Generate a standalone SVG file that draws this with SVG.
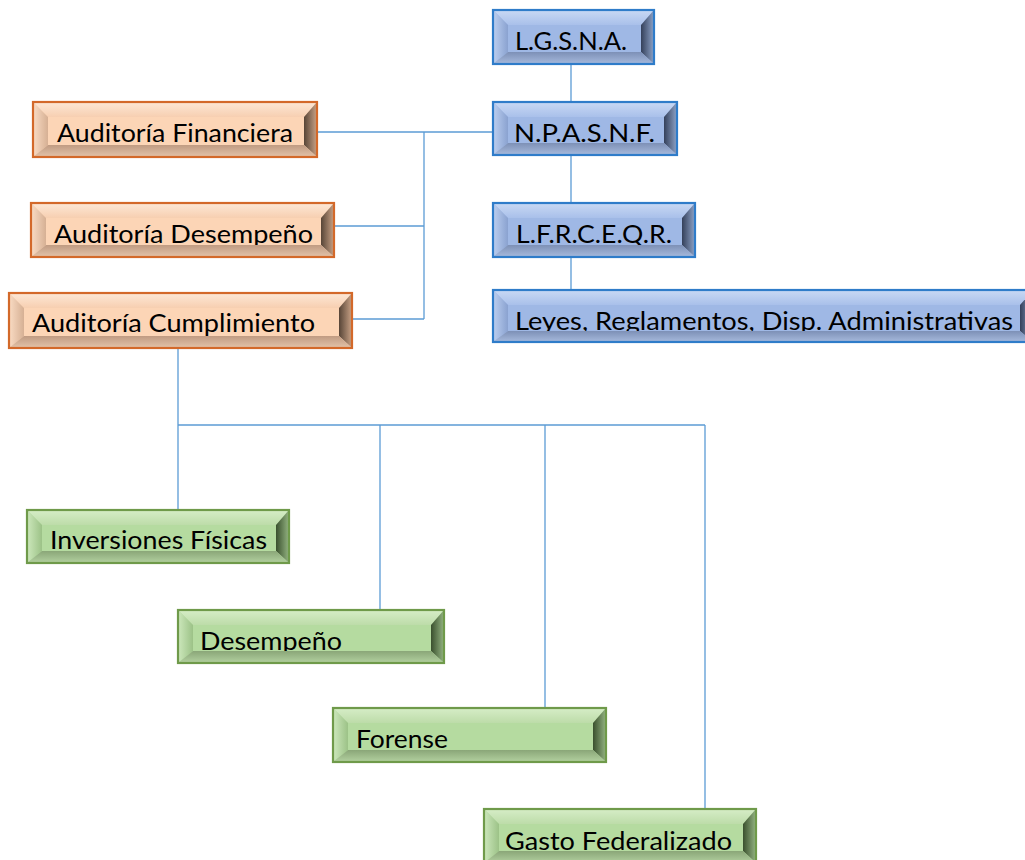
<svg xmlns="http://www.w3.org/2000/svg" width="1025" height="860" viewBox="0 0 1025 860">
  <defs>
    <!-- blue bevel shades -->
    <linearGradient id="b-top" x1="0" y1="0" x2="0" y2="1"><stop offset="0" stop-color="#c9d9f4"/><stop offset="1" stop-color="#a9c0ea"/></linearGradient>
    <linearGradient id="b-left" x1="0" y1="0" x2="1" y2="0"><stop offset="0" stop-color="#bccff0"/><stop offset="1" stop-color="#8aa2d0"/></linearGradient>
    <linearGradient id="b-right" x1="0" y1="0" x2="1" y2="0"><stop offset="0" stop-color="#34405a"/><stop offset="1" stop-color="#8ea3c8"/></linearGradient>
    <linearGradient id="b-bottom" x1="0" y1="0" x2="0" y2="1"><stop offset="0" stop-color="#7d90b6"/><stop offset="1" stop-color="#a7badd"/></linearGradient>
    <!-- orange bevel shades -->
    <linearGradient id="o-top" x1="0" y1="0" x2="0" y2="1"><stop offset="0" stop-color="#fde8d6"/><stop offset="1" stop-color="#f7cfb1"/></linearGradient>
    <linearGradient id="o-left" x1="0" y1="0" x2="1" y2="0"><stop offset="0" stop-color="#fadcc4"/><stop offset="1" stop-color="#d6b094"/></linearGradient>
    <linearGradient id="o-right" x1="0" y1="0" x2="1" y2="0"><stop offset="0" stop-color="#574537"/><stop offset="1" stop-color="#c9a286"/></linearGradient>
    <linearGradient id="o-bottom" x1="0" y1="0" x2="0" y2="1"><stop offset="0" stop-color="#c09b82"/><stop offset="1" stop-color="#e3c3a9"/></linearGradient>
    <!-- green bevel shades -->
    <linearGradient id="g-top" x1="0" y1="0" x2="0" y2="1"><stop offset="0" stop-color="#d6edc7"/><stop offset="1" stop-color="#bddca9"/></linearGradient>
    <linearGradient id="g-left" x1="0" y1="0" x2="1" y2="0"><stop offset="0" stop-color="#cde8bc"/><stop offset="1" stop-color="#9cc287"/></linearGradient>
    <linearGradient id="g-right" x1="0" y1="0" x2="1" y2="0"><stop offset="0" stop-color="#3a502e"/><stop offset="1" stop-color="#94b482"/></linearGradient>
    <linearGradient id="g-bottom" x1="0" y1="0" x2="0" y2="1"><stop offset="0" stop-color="#8aa678"/><stop offset="1" stop-color="#b3d1a0"/></linearGradient>
  </defs>
  <style>
    .lbl { font-family: Lato, "Liberation Sans", Arial, sans-serif; font-size: 25px; fill: #000; }
    .b .face { fill: #9fb8e5; } .b .edge { fill: none; stroke: #2f7cc9; stroke-width: 2.2; }
    .b .t { fill: url(#b-top); } .b .l { fill: url(#b-left); } .b .r { fill: url(#b-right); } .b .bt { fill: url(#b-bottom); }
    .o .face { fill: #fcd5b6; } .o .edge { fill: none; stroke: #d3692a; stroke-width: 2.2; }
    .o .t { fill: url(#o-top); } .o .l { fill: url(#o-left); } .o .r { fill: url(#o-right); } .o .bt { fill: url(#o-bottom); }
    .g .face { fill: #b5dba0; } .g .edge { fill: none; stroke: #6f9a4a; stroke-width: 2.2; }
    .g .t { fill: url(#g-top); } .g .l { fill: url(#g-left); } .g .r { fill: url(#g-right); } .g .bt { fill: url(#g-bottom); }
    .conn path { fill: none; stroke: #5b9bd5; stroke-width: 1.3; }
  </style>

  <rect width="1025" height="860" fill="#ffffff"/>

  <g class="conn" id="connectors">
    <path d="M571,64 V102"/>
    <path d="M571,155 V203"/>
    <path d="M571,257 V290"/>
    <path d="M317,132 H493"/>
    <path d="M424,132 V319"/>
    <path d="M334,226 H424"/>
    <path d="M352,319 H424"/>
    <path d="M178,348 V510"/>
    <path d="M178,425 H705"/>
    <path d="M380,425 V610"/>
    <path d="M545,425 V708"/>
    <path d="M705,425 V809"/>
  </g>

  <g id="lgsna" class="b">
    <rect class="face" x="493" y="10" width="161" height="54"/>
    <text class="lbl" x="515" y="50" textLength="112" lengthAdjust="spacingAndGlyphs">L.G.S.N.A.</text>
    <polygon class="t" points="493,10 654,10 641,25 508,25"/>
    <polygon class="l" points="493,10 508,25 508,52 493,64"/>
    <polygon class="r" points="654,10 654,64 641,52 641,25"/>
    <polygon class="bt" points="493,64 508,52 641,52 654,64"/>
    <rect class="edge" x="493" y="10" width="161" height="54"/>
  </g>

  <g id="npasnf" class="b">
    <rect class="face" x="493" y="102" width="184" height="53"/>
    <text class="lbl" x="514" y="142" textLength="141" lengthAdjust="spacingAndGlyphs">N.P.A.S.N.F.</text>
    <polygon class="t" points="493,102 677,102 664,117 508,117"/>
    <polygon class="l" points="493,102 508,117 508,143 493,155"/>
    <polygon class="r" points="677,102 677,155 664,143 664,117"/>
    <polygon class="bt" points="493,155 508,143 664,143 677,155"/>
    <rect class="edge" x="493" y="102" width="184" height="53"/>
  </g>

  <g id="lfrceqr" class="b">
    <rect class="face" x="493" y="203" width="202" height="54"/>
    <text class="lbl" x="516" y="243" textLength="156" lengthAdjust="spacingAndGlyphs">L.F.R.C.E.Q.R.</text>
    <polygon class="t" points="493,203 695,203 682,218 508,218"/>
    <polygon class="l" points="493,203 508,218 508,245 493,257"/>
    <polygon class="r" points="695,203 695,257 682,245 682,218"/>
    <polygon class="bt" points="493,257 508,245 682,245 695,257"/>
    <rect class="edge" x="493" y="203" width="202" height="54"/>
  </g>

  <g id="leyes" class="b">
    <rect class="face" x="493" y="290" width="540" height="52"/>
    <text class="lbl" x="515" y="330" textLength="498" lengthAdjust="spacingAndGlyphs">Leyes, Reglamentos, Disp. Administrativas</text>
    <polygon class="t" points="493,290 1033,290 1020,305 508,305"/>
    <polygon class="l" points="493,290 508,305 508,331 493,342"/>
    <polygon class="r" points="1033,290 1033,342 1020,331 1020,305"/>
    <polygon class="bt" points="493,342 508,331 1020,331 1033,342"/>
    <rect class="edge" x="493" y="290" width="540" height="52"/>
  </g>

  <g id="aud-financiera" class="o">
    <rect class="face" x="33" y="102" width="284" height="55"/>
    <text class="lbl" x="57" y="142" textLength="236" lengthAdjust="spacingAndGlyphs">Auditoría Financiera</text>
    <polygon class="t" points="33,102 317,102 304,117 48,117"/>
    <polygon class="l" points="33,102 48,117 48,145 33,157"/>
    <polygon class="r" points="317,102 317,157 304,145 304,117"/>
    <polygon class="bt" points="33,157 48,145 304,145 317,157"/>
    <rect class="edge" x="33" y="102" width="284" height="55"/>
  </g>

  <g id="aud-desempeno" class="o">
    <rect class="face" x="31" y="203" width="303" height="54"/>
    <text class="lbl" x="54" y="243" textLength="259" lengthAdjust="spacingAndGlyphs">Auditoría Desempeño</text>
    <polygon class="t" points="31,203 334,203 321,218 46,218"/>
    <polygon class="l" points="31,203 46,218 46,245 31,257"/>
    <polygon class="r" points="334,203 334,257 321,245 321,218"/>
    <polygon class="bt" points="31,257 46,245 321,245 334,257"/>
    <rect class="edge" x="31" y="203" width="303" height="54"/>
  </g>

  <g id="aud-cumplimiento" class="o">
    <rect class="face" x="9" y="293" width="343" height="55"/>
    <text class="lbl" x="32" y="332" textLength="283" lengthAdjust="spacingAndGlyphs">Auditoría Cumplimiento</text>
    <polygon class="t" points="9,293 352,293 339,308 24,308"/>
    <polygon class="l" points="9,293 24,308 24,336 9,348"/>
    <polygon class="r" points="352,293 352,348 339,336 339,308"/>
    <polygon class="bt" points="9,348 24,336 339,336 352,348"/>
    <rect class="edge" x="9" y="293" width="343" height="55"/>
  </g>

  <g id="inversiones" class="g">
    <rect class="face" x="27" y="510" width="262" height="53"/>
    <text class="lbl" x="50" y="549" textLength="217" lengthAdjust="spacingAndGlyphs">Inversiones Físicas</text>
    <polygon class="t" points="27,510 289,510 276,525 42,525"/>
    <polygon class="l" points="27,510 42,525 42,551 27,563"/>
    <polygon class="r" points="289,510 289,563 276,551 276,525"/>
    <polygon class="bt" points="27,563 42,551 276,551 289,563"/>
    <rect class="edge" x="27" y="510" width="262" height="53"/>
  </g>

  <g id="desempeno" class="g">
    <rect class="face" x="178" y="610" width="266" height="53"/>
    <text class="lbl" x="200" y="650" textLength="142" lengthAdjust="spacingAndGlyphs">Desempeño</text>
    <polygon class="t" points="178,610 444,610 431,625 193,625"/>
    <polygon class="l" points="178,610 193,625 193,651 178,663"/>
    <polygon class="r" points="444,610 444,663 431,651 431,625"/>
    <polygon class="bt" points="178,663 193,651 431,651 444,663"/>
    <rect class="edge" x="178" y="610" width="266" height="53"/>
  </g>

  <g id="forense" class="g">
    <rect class="face" x="333" y="708" width="273" height="54"/>
    <text class="lbl" x="356" y="748" textLength="92" lengthAdjust="spacingAndGlyphs">Forense</text>
    <polygon class="t" points="333,708 606,708 593,723 348,723"/>
    <polygon class="l" points="333,708 348,723 348,750 333,762"/>
    <polygon class="r" points="606,708 606,762 593,750 593,723"/>
    <polygon class="bt" points="333,762 348,750 593,750 606,762"/>
    <rect class="edge" x="333" y="708" width="273" height="54"/>
  </g>

  <g id="gasto" class="g">
    <rect class="face" x="484" y="809" width="272" height="54"/>
    <text class="lbl" x="505" y="850" textLength="227" lengthAdjust="spacingAndGlyphs">Gasto Federalizado</text>
    <polygon class="t" points="484,809 756,809 743,824 499,824"/>
    <polygon class="l" points="484,809 499,824 499,851 484,863"/>
    <polygon class="r" points="756,809 756,863 743,851 743,824"/>
    <polygon class="bt" points="484,863 499,851 743,851 756,863"/>
    <rect class="edge" x="484" y="809" width="272" height="54"/>
  </g>
</svg>
